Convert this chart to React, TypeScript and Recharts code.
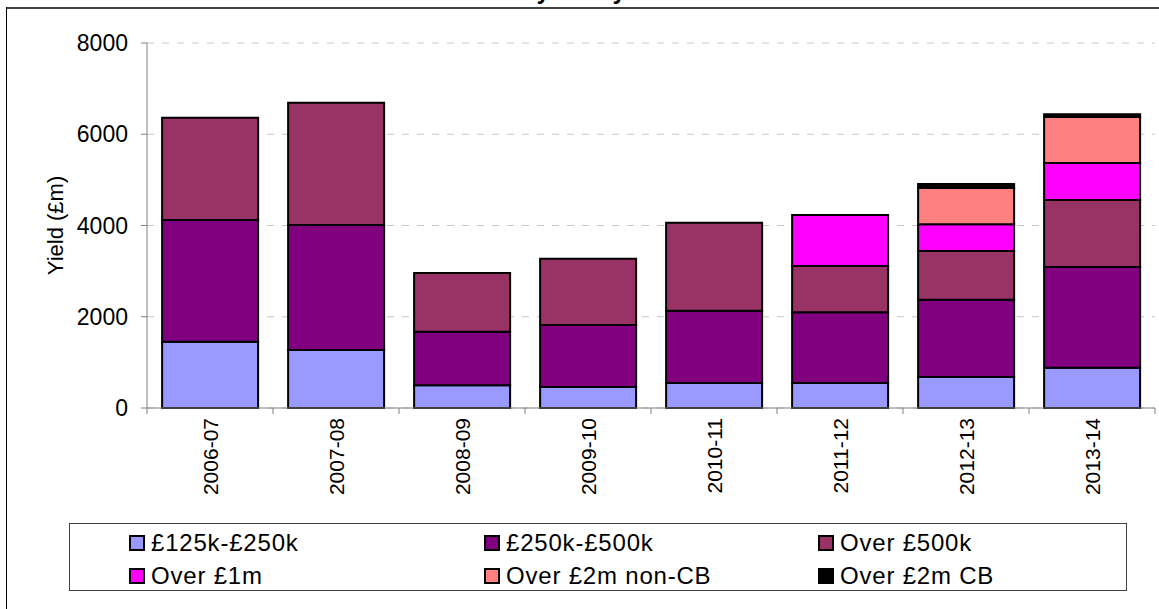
import React from "react";
import { Bar, BarChart, CartesianGrid, XAxis, YAxis } from "recharts";

const categories = ["2006-07", "2007-08", "2008-09", "2009-10", "2010-11", "2011-12", "2012-13", "2013-14"];

const band125to250 = [1450, 1270, 500, 460, 550, 550, 680, 880];
const band250to500 = [2670, 2740, 1170, 1360, 1580, 1550, 1690, 2210];
const over500k = [2240, 2680, 1290, 1450, 1930, 1010, 1070, 1470];
const over1m = [null, null, null, null, null, 1120, 590, 810];
const over2mNonCB = [null, null, null, null, null, null, 790, 1010];
const over2mCB = [null, null, null, null, null, null, 90, 60];

const yTicks = [0, 2000, 4000, 6000, 8000];

const series = [
  { key: "b1", name: "£125k-£250k", values: band125to250, color: "#9999FF" },
  { key: "b2", name: "£250k-£500k", values: band250to500, color: "#800080" },
  { key: "b3", name: "Over £500k", values: over500k, color: "#993366" },
  { key: "b4", name: "Over £1m", values: over1m, color: "#FF00FF" },
  { key: "b5", name: "Over £2m non-CB", values: over2mNonCB, color: "#FF8080" },
  { key: "b6", name: "Over £2m CB", values: over2mCB, color: "#000000" },
];

const data = categories.map((year, i) => {
  const row: Record<string, string | number | null> = { year };
  series.forEach((s) => {
    row[s.key] = s.values[i];
  });
  return row;
});

const FONT = "'Liberation Sans', Arial, sans-serif";
const AXIS_GREY = "#808080";

// rotated year label plus the boundary tick marks between categories
function YearTick(props: any) {
  const { x, y, payload, index } = props;
  const half = payload?.offset ?? 63;
  const last = index === categories.length - 1;
  return (
    <g>
      <line x1={x - half} x2={x - half} y1={y} y2={y + 6} stroke={AXIS_GREY} />
      {last ? <line x1={x + half} x2={x + half} y1={y} y2={y + 6} stroke={AXIS_GREY} /> : null}
      <text
        transform={`translate(${x}, ${y + 10}) rotate(-90)`}
        textAnchor="end"
        dy="0.36em"
        fontSize={21}
        fontFamily={FONT}
        fill="#000"
      >
        {payload.value}
      </text>
    </g>
  );
}

function YieldLabel(props: any) {
  const { viewBox } = props;
  const cx = (viewBox?.x ?? 0) + 55;
  const cy = (viewBox?.y ?? 43) + (viewBox?.height ?? 365) / 2;
  return (
    <text
      x={cx}
      y={cy}
      transform={`rotate(-90, ${cx}, ${cy})`}
      textAnchor="middle"
      dominantBaseline="central"
      fontSize={22}
      fontFamily={FONT}
      fill="#000"
    >
      Yield (£m)
    </text>
  );
}

function LegendBox() {
  return (
    <div
      style={{
        position: "absolute",
        left: 69,
        top: 523,
        width: 1058,
        height: 68,
        border: "1px solid #404040",
        boxSizing: "border-box",
        background: "#fff",
        display: "grid",
        gridTemplateColumns: "355px 334px 1fr",
        gridTemplateRows: "33px 33px",
        paddingLeft: 59,
        paddingTop: 2,
        fontFamily: FONT,
        fontSize: 24,
        letterSpacing: 0.8,
        color: "#000",
      }}
    >
      {series.map((s) => (
        <div key={s.key} style={{ display: "flex", alignItems: "center", whiteSpace: "nowrap" }}>
          <span
            style={{
              display: "inline-block",
              width: 12,
              height: 12,
              background: s.color,
              border: "2px solid #000",
              marginRight: 6,
            }}
          />
          {s.name}
        </div>
      ))}
    </div>
  );
}

export default function App() {
  return (
    <div
      style={{
        position: "fixed",
        top: 0,
        left: 0,
        width: 1159,
        height: 609,
        background: "#fff",
        overflow: "hidden",
        fontFamily: FONT,
      }}
    >
      <div
        style={{
          position: "absolute",
          top: -24,
          left: 0,
          width: 1159,
          textAlign: "center",
          fontWeight: "bold",
          fontSize: 24,
          lineHeight: "30px",
          fontFamily: FONT,
        }}
      >
        SDLT yield by band
      </div>
      <div style={{ position: "absolute", top: 7, left: 6, width: 1153, height: 2, background: "#404040" }} />
      <div style={{ position: "absolute", top: 7, left: 6, width: 1, height: 602, background: "#000" }} />

      <div style={{ position: "absolute", top: 0, left: 0 }}>
        <BarChart
          width={1159}
          height={500}
          data={data}
          margin={{ top: 43, right: 4, bottom: 0, left: 0 }}
          barCategoryGap="12%"
        >
          <CartesianGrid vertical={false} stroke="#c8c8c8" strokeDasharray="7 8" />
          <XAxis
            dataKey="year"
            height={92}
            stroke={AXIS_GREY}
            tickLine={false}
            tickSize={0}
            tickMargin={0}
            interval={0}
            tick={<YearTick />}
          />
          <YAxis
            width={147}
            domain={[0, 8000]}
            ticks={yTicks}
            interval={0}
            stroke={AXIS_GREY}
            tickSize={6}
            tickMargin={13}
            tick={{ fill: "#000", fontSize: 23, fontFamily: FONT }}
            label={<YieldLabel />}
          />
          {series.map((s) => (
            <Bar
              key={s.key}
              dataKey={s.key}
              name={s.name}
              stackId="yield"
              fill={s.color}
              stroke="#000"
              strokeWidth={2}
              isAnimationActive={false}
            />
          ))}
        </BarChart>
      </div>
      <LegendBox />
    </div>
  );
}
